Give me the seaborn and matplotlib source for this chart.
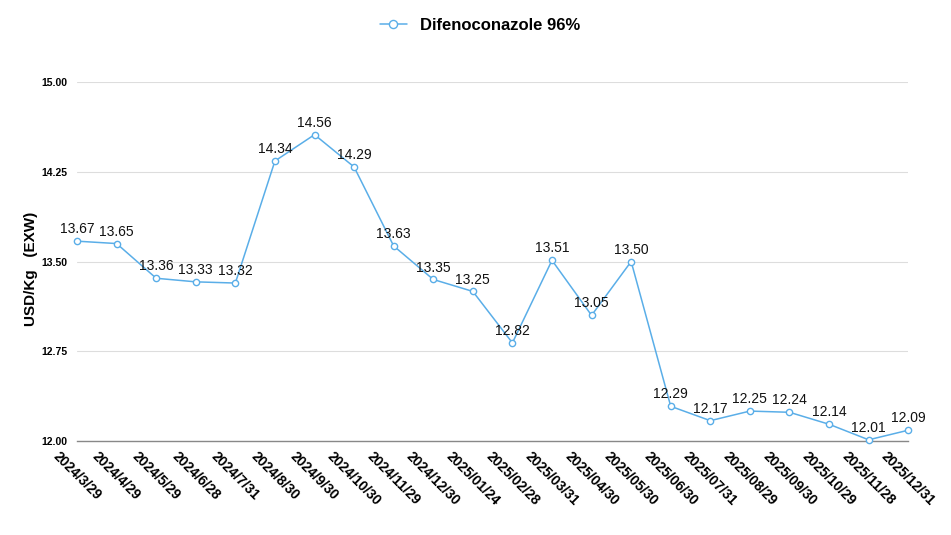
import matplotlib
matplotlib.use("Agg")
import matplotlib.pyplot as plt
import seaborn as sns
import pandas as pd

dates = ["2024/3/29", "2024/4/29", "2024/5/29", "2024/6/28", "2024/7/31", "2024/8/30",
         "2024/9/30", "2024/10/30", "2024/11/29", "2024/12/30", "2025/01/24", "2025/02/28",
         "2025/03/31", "2025/04/30", "2025/05/30", "2025/06/30", "2025/07/31", "2025/08/29",
         "2025/09/30", "2025/10/29", "2025/11/28", "2025/12/31"]
prices = [13.67, 13.65, 13.36, 13.33, 13.32, 14.34, 14.56, 14.29, 13.63, 13.35, 13.25, 12.82,
          13.51, 13.05, 13.50, 12.29, 12.17, 12.25, 12.24, 12.14, 12.01, 12.09]
series_name = "Difenoconazole 96%"
y_ticks = [12.00, 12.75, 13.50, 14.25, 15.00]

sns.set_theme(style="white")
plt.rcParams["font.family"] = ["Liberation Sans", "DejaVu Sans"]
plt.rcParams["text.color"] = "black"
plt.rcParams["axes.labelcolor"] = "black"
plt.rcParams["xtick.color"] = "black"
plt.rcParams["ytick.color"] = "black"

df = pd.DataFrame({"date": dates, "price": prices, "series": series_name})
color = "#5aaee8"

fig = plt.figure(figsize=(9.51, 5.35), dpi=100)
ax = fig.add_axes([0.081, 0.1757, 0.874, 0.671])

sns.lineplot(data=df, x="date", y="price", hue="series", palette=[color], sort=False,
             marker="o", markersize=4.5, markerfacecolor="white", markeredgecolor=color,
             markeredgewidth=1.0, linewidth=1.1, ax=ax, clip_on=False, zorder=3)

for i, v in enumerate(prices):
    ax.annotate(f"{v:.2f}", (i, v), xytext=(0, 3.5), textcoords="offset points",
                ha="center", va="bottom", fontsize=10, color="#111111")

ax.set_xlim(0, len(dates) - 1)
ax.set_ylim(12.0, 15.0)
ax.set_yticks(y_ticks)
ax.set_yticklabels([f"{t:.2f}" for t in y_ticks], fontsize=7.5, fontweight="bold")
ax.grid(axis="y", color="#dddddd", linewidth=0.8)
ax.grid(axis="x", visible=False)
for s in ["top", "right", "left"]:
    ax.spines[s].set_visible(False)
ax.spines["bottom"].set_color("#888888")
ax.spines["bottom"].set_linewidth(1.0)
ax.tick_params(axis="both", length=0, labelcolor="black")
ax.tick_params(axis="y", pad=7)
ax.tick_params(axis="x", pad=6)
plt.setp(ax.get_xticklabels(), rotation=-45, ha="center", va="top", fontsize=10, fontweight="bold")
ax.set_xlabel("")
ax.set_ylabel("USD/Kg   (EXW)", fontsize=11, fontweight="bold", color="black")
ax.yaxis.set_label_coords(-0.047, 0.48)

leg = ax.get_legend()
if leg:
    leg.remove()
h, l = ax.get_legend_handles_labels()
fig.legend(h, l, loc="upper center", bbox_to_anchor=(0.505, 0.995), frameon=False,
           prop={"weight": "bold", "size": 12}, handlelength=1.6, markerscale=1.3,
           labelcolor="black")

fig.savefig("out.png", dpi=100)
